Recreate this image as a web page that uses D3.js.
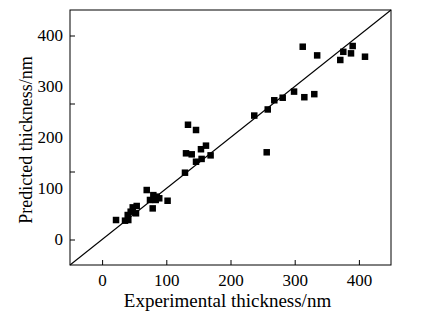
<!DOCTYPE html>
<html>
<head>
<meta charset="utf-8">
<script src="https://cdn.jsdelivr.net/npm/d3@7"></script>
<style>
body{margin:0;background:#fff;}
text{font-family:"Liberation Serif","Times New Roman",serif;fill:#000;}
</style>
</head>
<body>
<svg width="431" height="318"></svg>
<script>
// experimental vs predicted thickness (nm)
var experimental = [21.7,35.7,40.8,39.9,44.5,47.7,53.9,52.8,69.5,74.6,78.8,79.8,85,89,83.5,102,
	129.1,130.7,139.6,146.3,154,161.8,155,169,133.8,146.3,
	237,256.4,258,268.2,281.3,299,315,330.5,312.5,335,371,375.7,387.7,390.3,409.5];
var predicted = [38.2,36.9,38.2,48,54.5,63,65.7,51.4,97,77.5,61,87,84,80.8,77.5,76,
	131,169,167,152.5,177,184,158,165,225,214.7,
	243,171,255,273,278,290,279,285,378,361,352,368,365,379.4,358.4];
var xTicks = [0,100,200,300,400];
var yTicks = [0,100,200,300,400];
var yTickMarks = [0,400/3,800/3,400];

var svg = d3.select('svg');
var margin = {left:70,right:40,top:10,bottom:53};
var width = +svg.attr('width'), height = +svg.attr('height');
var innerwidth = 321, innerheight = height - margin.top - margin.bottom;

var xscale = d3.scaleLinear().domain([-50,450]).range([0,innerwidth]);
var yscale = d3.scaleLinear().domain([-50,450]).range([innerheight,0]);

var g = svg.append('g').attr('transform',`translate(${margin.left},${margin.top})`);

// diagonal y = x
g.append('line')
	.attr('x1',xscale(-50)).attr('y1',yscale(-50))
	.attr('x2',xscale(450)).attr('y2',yscale(450))
	.attr('stroke','#000').attr('stroke-width',1.1);

var data = experimental.map((d,i) => ({x:d,y:predicted[i]}));
var s = 6.5;
g.append('g').selectAll('rect').data(data).enter()
	.append('rect')
	.attr('x',d => xscale(d.x)-s/2)
	.attr('y',d => yscale(d.y)-s/2)
	.attr('width',s).attr('height',s)
	.attr('fill','#000');

// x axis, ticks pointing inward
var xa = g.append('g').attr('transform',`translate(0,${innerheight})`)
	.call(d3.axisBottom(xscale).tickValues(xTicks).tickSizeInner(-5).tickSizeOuter(0).tickPadding(9));
// y axis labels
var ya = g.append('g')
	.call(d3.axisLeft(yscale).tickValues(yTicks).tickSize(0).tickPadding(7));
// y tick marks (as drawn in the original)
var ym = g.append('g')
	.call(d3.axisLeft(yscale).tickValues(yTickMarks).tickSizeInner(-5).tickSizeOuter(0).tickFormat(''));
[xa,ya,ym].forEach(a => {
	a.attr('font-family','Liberation Serif').attr('font-size',17);
	a.select('.domain').remove();
	a.selectAll('line').attr('stroke','#000');
});

g.append('rect').attr('width',innerwidth).attr('height',innerheight)
	.attr('fill','none').attr('stroke','#000').attr('stroke-width',1);

svg.append('text').attr('x',margin.left+innerwidth/2-3).attr('y',307)
	.attr('text-anchor','middle').style('font-size','19px')
	.text('Experimental thickness/nm');
svg.append('text').attr('transform','translate(32,140) rotate(-90)')
	.attr('text-anchor','middle').style('font-size','18px')
	.text('Predicted thickness/nm');
</script>
</body>
</html>
